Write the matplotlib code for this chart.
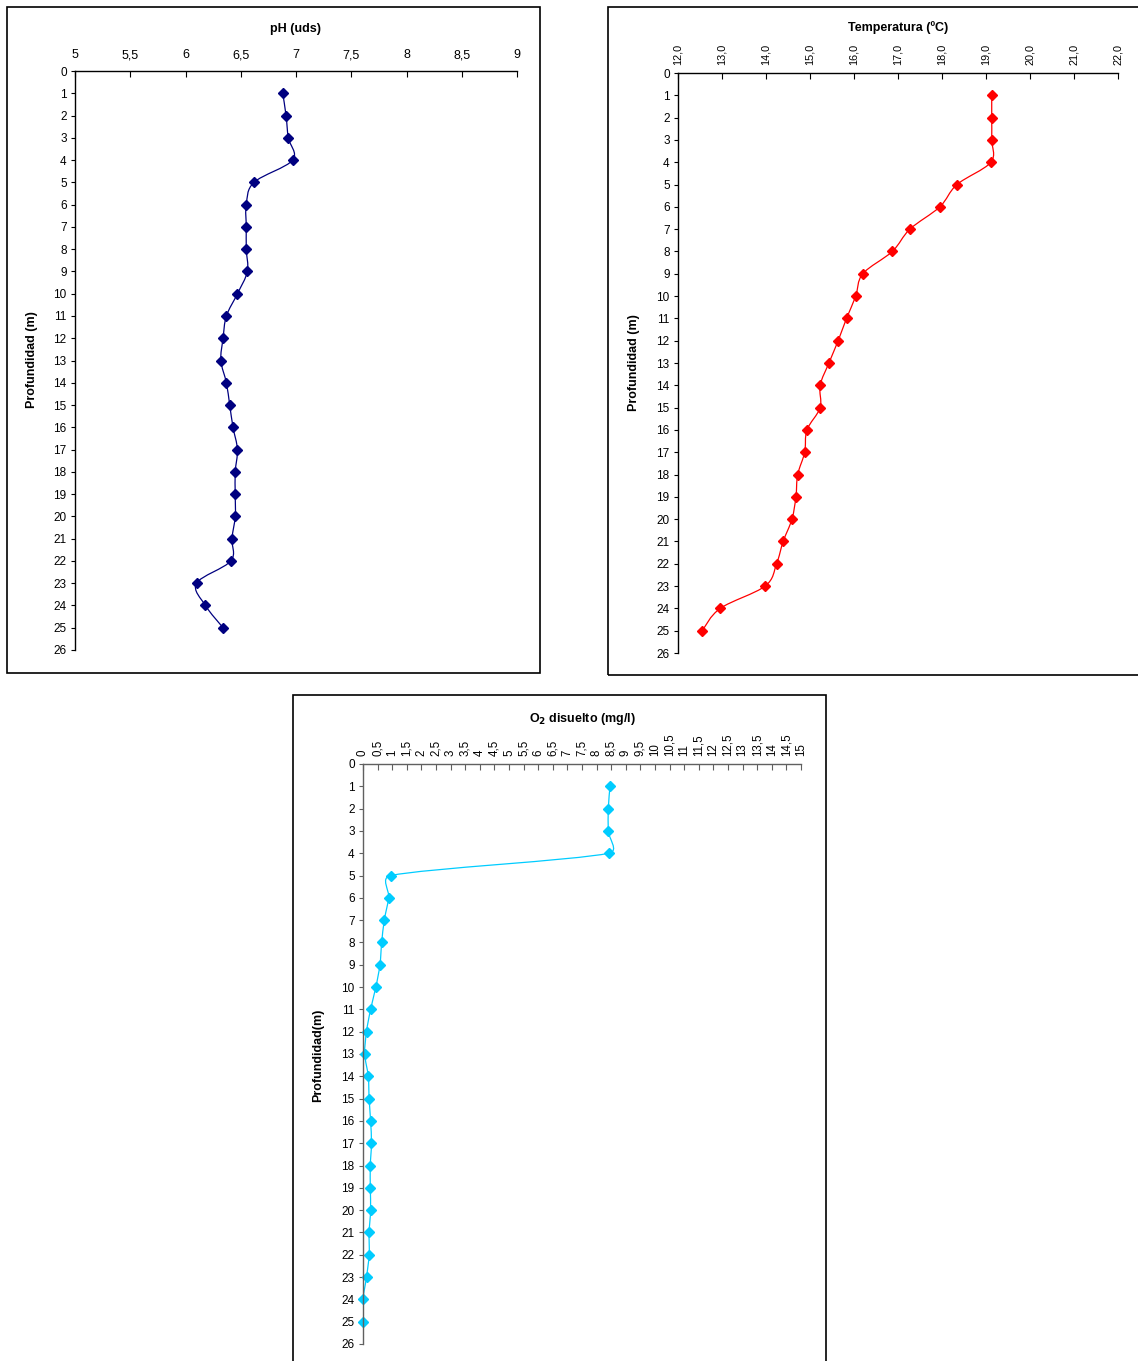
import matplotlib
matplotlib.use("Agg")
import matplotlib.pyplot as plt
from matplotlib.path import Path
from matplotlib.patches import PathPatch, Rectangle
import numpy as np

plt.rcParams['font.family'] = ['Liberation Sans', 'DejaVu Sans']

W, H = 1138, 1361

depth = list(range(1, 26))
ph = [6.88, 6.91, 6.93, 6.97, 6.62, 6.55, 6.55, 6.55, 6.56, 6.47,
      6.37, 6.34, 6.32, 6.37, 6.40, 6.43, 6.47, 6.45, 6.45, 6.45,
      6.42, 6.41, 6.10, 6.18, 6.34]
temp = [19.13, 19.13, 19.13, 19.11, 18.34, 17.95, 17.27, 16.87, 16.20, 16.04,
        15.83, 15.64, 15.43, 15.23, 15.23, 14.93, 14.88, 14.72, 14.68, 14.59,
        14.39, 14.24, 13.98, 12.96, 12.55]
o2 = [8.46, 8.40, 8.40, 8.42, 0.95, 0.88, 0.73, 0.64, 0.58, 0.44,
      0.26, 0.12, 0.06, 0.18, 0.21, 0.26, 0.29, 0.25, 0.25, 0.26,
      0.21, 0.21, 0.12, 0.0, 0.0]

ph_ticks = [5, 5.5, 6, 6.5, 7, 7.5, 8, 8.5, 9]
temp_ticks = [12, 13, 14, 15, 16, 17, 18, 19, 20, 21, 22]
o2_ticks = [i * 0.5 for i in range(31)]


def smooth_path(ax, x, y):
    # excel style smoothed line, control points limited by pixel distances
    pts = np.column_stack([x, y]).astype(float)
    disp = ax.transData.transform(pts)
    n = len(pts)
    verts = [pts[0]]
    codes = [Path.MOVETO]

    def d(a, b):
        return np.hypot(*(disp[a] - disp[b]))

    for i in range(n - 1):
        i0, i1, i2, i3 = max(i - 1, 0), i, i + 1, min(i + 2, n - 1)
        d02, d12, d13 = d(i0, i2), d(i1, i2), d(i1, i3)
        f0 = f1 = 1 / 6
        if d02 / 6 >= d12 / 2 and d02 > 0:
            f0 = d12 / d02 / 2
        if d13 / 6 >= d12 / 2 and d13 > 0:
            f1 = d12 / d13 / 2
        c1 = pts[i1] + f0 * (pts[i2] - pts[i0])
        c2 = pts[i2] - f1 * (pts[i3] - pts[i1])
        verts += [c1, c2, pts[i2]]
        codes += [Path.CURVE4] * 3
    return Path(verts, codes)


def fmt(v, dec):
    if dec:
        return ("%.1f" % v).replace(".", ",")
    return ("%g" % v).replace(".", ",")


def rect(l, t, r, b):
    return [l / W, 1 - b / H, (r - l) / W, (b - t) / H]


fig = plt.figure(figsize=(W / 100, H / 100), dpi=100)


def panel(box, axrect, xvals, color, ticks, dec, rot, xfs, title, ylabel, tpos, ypos, spcol):
    l, t, r, b = box
    fig.patches.append(Rectangle((l / W, 1 - b / H), (r - l) / W, (b - t) / H,
                                 transform=fig.transFigure, fill=False,
                                 edgecolor='black', linewidth=1.2))
    ax = fig.add_axes(rect(*axrect))
    ax.set_facecolor('none')
    ax.set_xlim(ticks[0], ticks[-1])
    ax.set_ylim(26, 0)
    ax.xaxis.tick_top()
    for s in ['right', 'bottom']:
        ax.spines[s].set_visible(False)
    for s in ['left', 'top']:
        ax.spines[s].set_color(spcol)
        ax.spines[s].set_linewidth(1)
    ax.set_xticks(ticks)
    ax.set_xticklabels([fmt(v, dec) for v in ticks], rotation=rot)
    ax.set_yticks(range(27))
    ax.tick_params(axis='x', direction='in', length=4, pad=7 if rot == 0 else 6,
                   labelsize=xfs, labelcolor='black', color=spcol)
    ax.tick_params(axis='y', direction='out', length=3, pad=3, labelsize=8.5, color=spcol)
    ax.add_patch(PathPatch(smooth_path(ax, xvals, depth), fill=False,
                           edgecolor=color, linewidth=0.9))
    ax.plot(xvals, depth, linestyle='none', marker='D', markersize=5.3,
            color=color, clip_on=False)
    fig.text(tpos[0] / W, 1 - tpos[1] / H, title, ha='center', va='center',
             fontsize=9, fontweight='bold')
    fig.text(ypos[0] / W, 1 - ypos[1] / H, ylabel, ha='center', va='center',
             rotation=90, fontsize=9, fontweight='bold')
    return ax


panel((7, 7, 540, 673), (75, 71, 517, 650), ph, '#000080', ph_ticks, False, 0, 9,
      'pH (uds)', 'Profundidad (m)', (296, 29), (32, 360), 'black')
panel((608, 7, 1160, 675), (678, 73, 1118, 653), temp, '#FF0000', temp_ticks, True, 90, 7.8,
      'Temperatura (ºC)', 'Profundidad (m)', (898, 28), (634, 363), 'black')
panel((293, 695, 826, 1400), (363, 764, 801, 1344), o2, '#00CCFF', o2_ticks, False, 90, 8.3,
      'O$_\\mathbf{2}$ disuelto (mg/l)', 'Profundidad(m)', (582, 719), (318, 1055), '#606060')

fig.savefig("out.png", dpi=100)
